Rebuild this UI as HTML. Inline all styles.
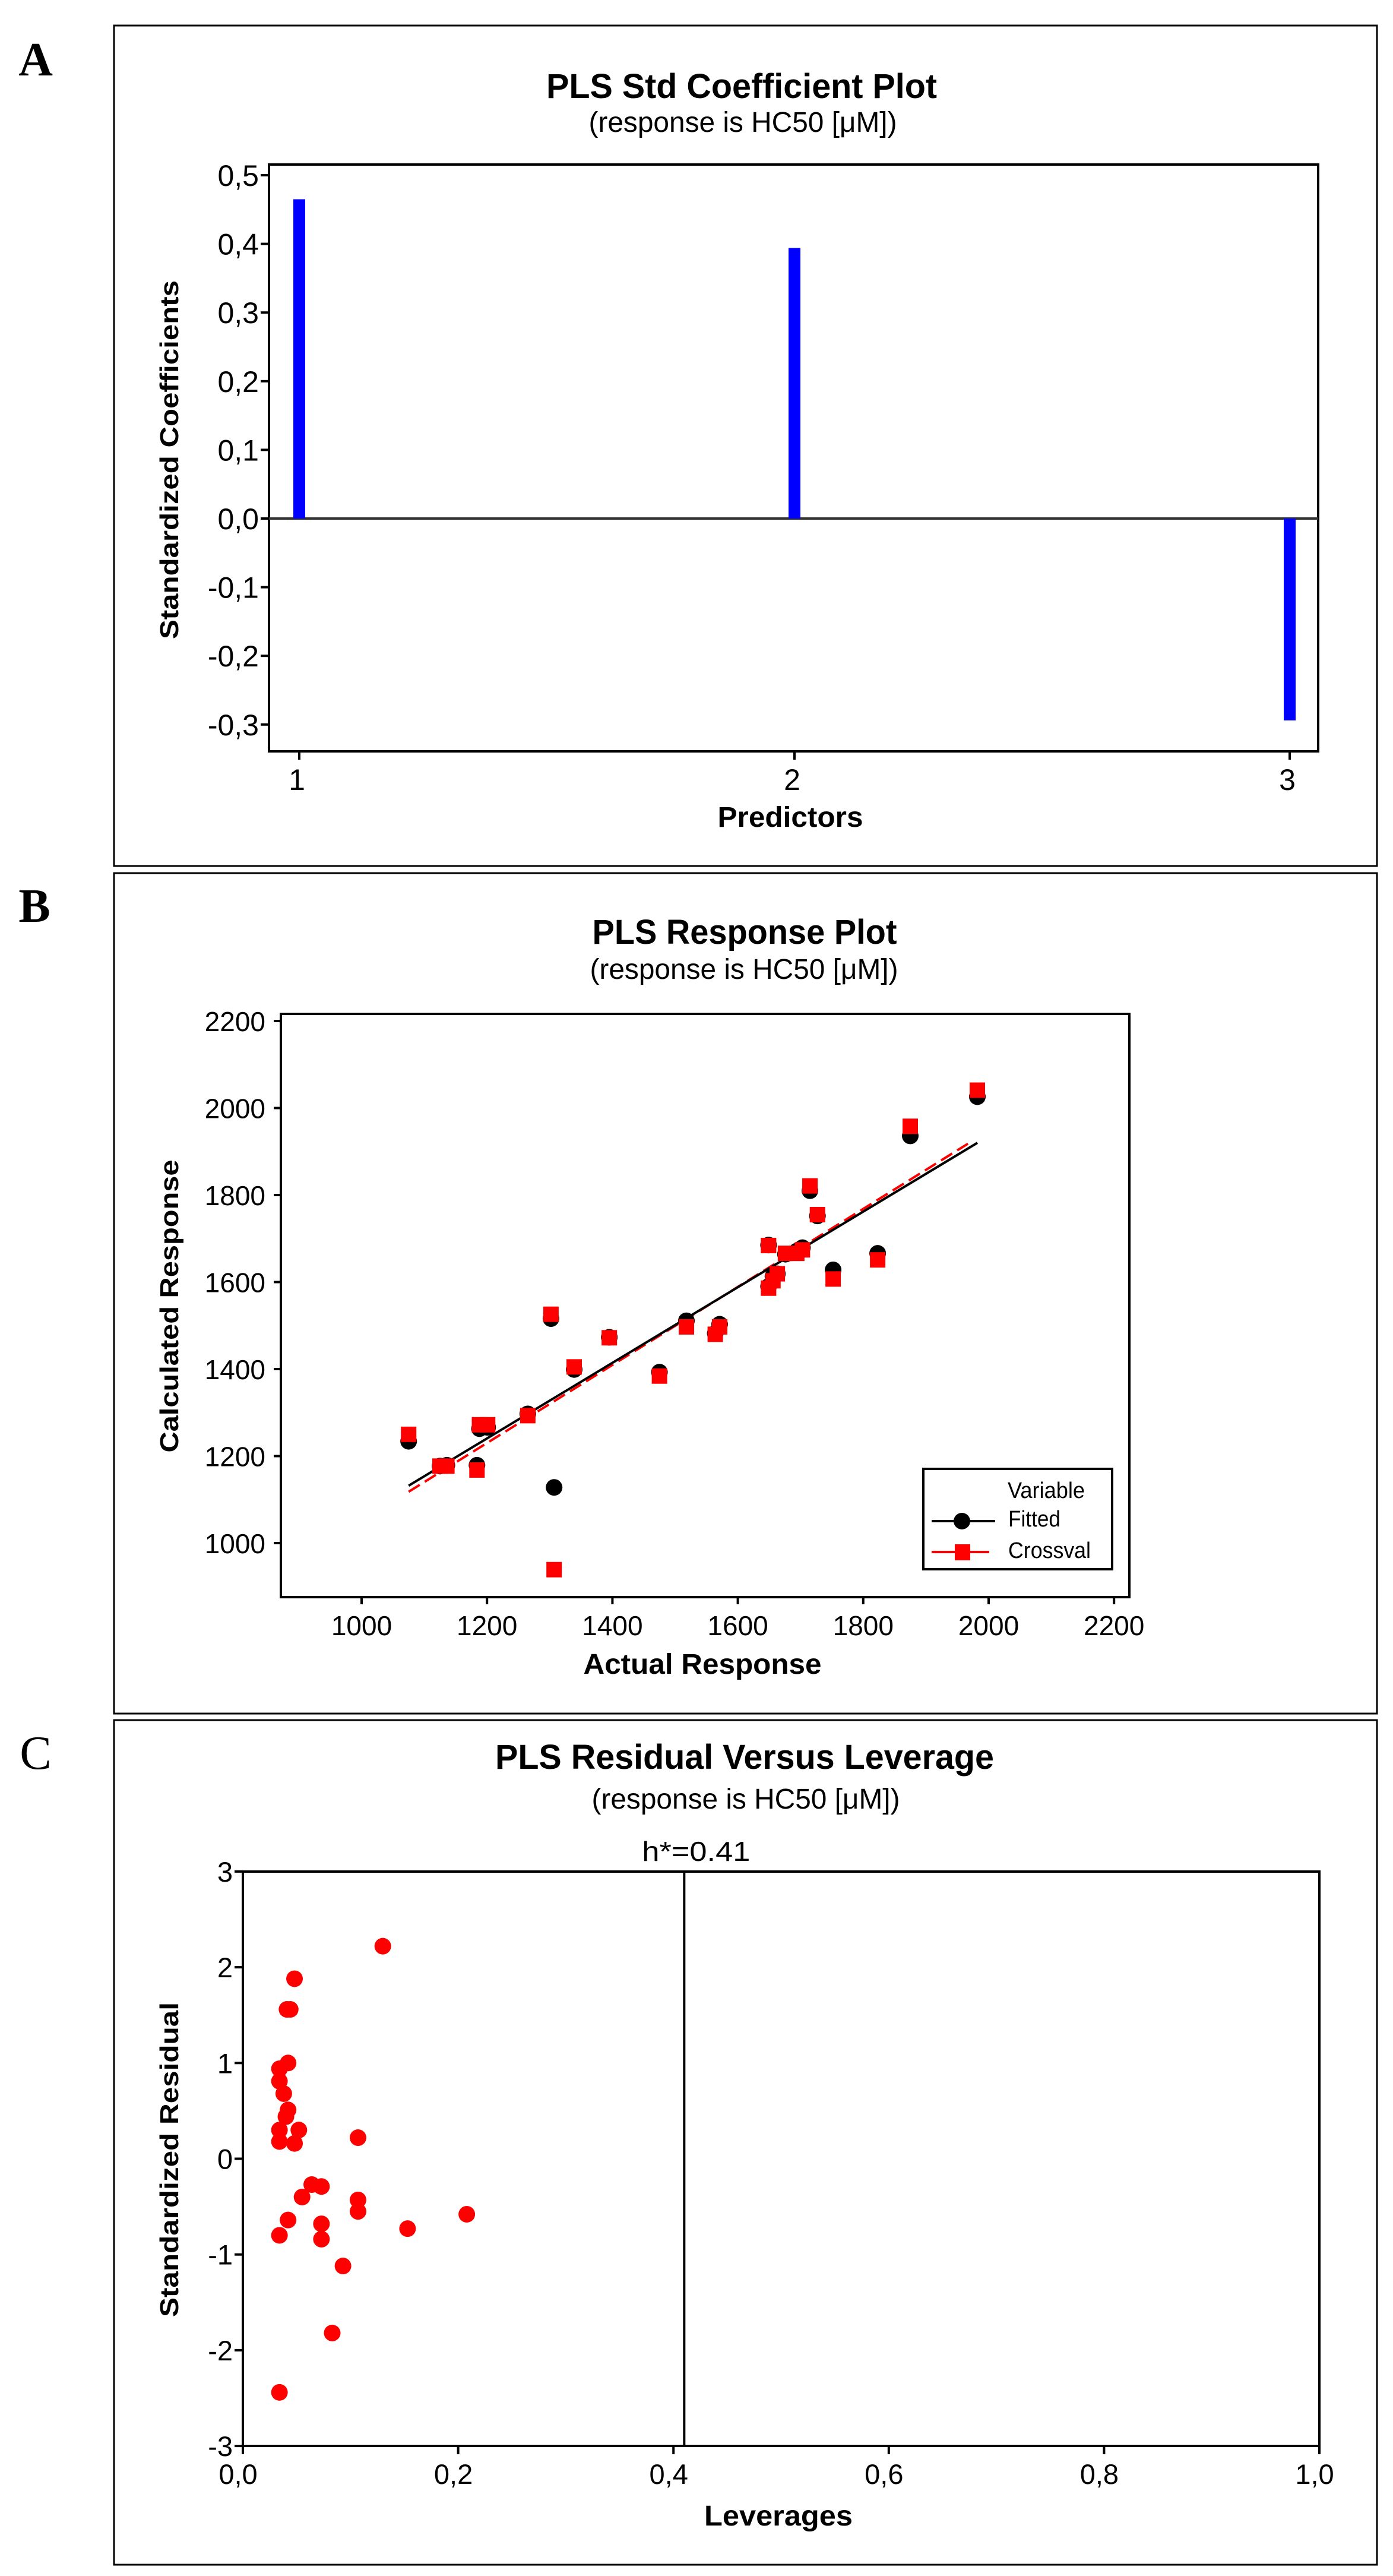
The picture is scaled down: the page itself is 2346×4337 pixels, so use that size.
<!DOCTYPE html>
<html><head><meta charset="utf-8"><style>
html,body{margin:0;padding:0;background:#fff;}
svg{display:block;font-family:"Liberation Sans",sans-serif;}
</style></head><body>
<svg id="fig" width="2346" height="4337" viewBox="0 0 2346 4337" xmlns="http://www.w3.org/2000/svg">
<rect x="0" y="0" width="2346" height="4337" fill="#fff"/>
</svg>
<script>
// Panel A data
const coefPredictors = [1, 2, 3];
const coefValues = [0.465, 0.394, -0.294];
const coefTicks = [0.5, 0.4, 0.3, 0.2, 0.1, 0.0, -0.1, -0.2, -0.3];
const coefTickLabels = ["0,5","0,4","0,3","0,2","0,1","0,0","-0,1","-0,2","-0,3"];
// Panel B data
const actualResp = [1075,1125,1136,1184,1188,1201,1265,1302,1307,1339,1395,1475,1518,1564,1571,1649,1649,1656,1663,1676,1694,1703,1715,1727,1752,1823,1875,1982];
const fittedResp = [1234,1177,1179,1179,1263,1266,1297,1516,1128,1399,1473,1393,1511,1482,1503,1685,1590,1613,1619,1664,1671,1679,1810,1752,1628,1666,1936,2026];
const crossvalResp = [1250,1177,1177,1168,1272,1272,1293,1526,939,1405,1472,1384,1497,1480,1497,1684,1586,1603,1619,1666,1666,1674,1821,1755,1607,1651,1958,2041];
const fitLineFitted = [[1075,1132],[1982,1920]];
const fitLineCross = [[1075,1118],[1967,1918]];
const respTicks = [1000,1200,1400,1600,1800,2000,2200];
// Panel C data
const leverages = [0.130,0.048,0.041,0.044,0.042,0.034,0.034,0.038,0.042,0.040,0.034,0.034,0.052,0.048,0.107,0.064,0.073,0.055,0.107,0.107,0.042,0.073,0.073,0.034,0.153,0.208,0.093,0.083,0.034];
const stdResiduals = [2.22,1.88,1.56,1.56,1.00,0.94,0.81,0.68,0.51,0.44,0.30,0.18,0.30,0.16,0.22,-0.27,-0.29,-0.40,-0.43,-0.55,-0.64,-0.68,-0.84,-0.80,-0.73,-0.58,-1.12,-1.82,-2.44];
const levTicks = [0,0.2,0.4,0.6,0.8,1.0];
const levTickLabels = ["0,0","0,2","0,4","0,6","0,8","1,0"];
const resTicks = [3,2,1,0,-1,-2,-3];
const hStar = 0.41;

const NS="http://www.w3.org/2000/svg";
const svg=document.getElementById('fig');
function el(tag,attrs,parent,text){const e=document.createElementNS(NS,tag);for(const k in attrs)e.setAttribute(k,attrs[k]);if(text!==undefined)e.textContent=text;(parent||svg).appendChild(e);return e;}
function txt(x,y,s,size,opts,parent){opts=opts||{};const a={x:x,y:y,'font-size':size,'text-anchor':opts.anchor||'middle',fill:'#000'};if(opts.bold)a['font-weight']='bold';if(opts.len){a.textLength=opts.len;a.lengthAdjust='spacingAndGlyphs';}if(opts.family)a['font-family']=opts.family;if(opts.transform)a.transform=opts.transform;return el('text',a,parent,s);}

// ---------- Panel A ----------
const gA=el('g',{});


let r=el('rect',{x:192,y:43,width:2127,height:1415,fill:'none',stroke:'#000','stroke-width':3},gA);

let t=txt(60,127,'A',80,{bold:true,family:'"Liberation Serif",serif'},gA);

t=txt(1249,165,'PLS Std Coefficient Plot',58,{bold:true,len:658},gA);

t=txt(1251,222,'(response is HC50 [μM])',48,{len:519},gA);

const A={l:453,r:2220,t:277,b:1265};
const ayA=v=>873-(v)*1156;
const axA=p=>504+(p-1)*834;
r=el('rect',{x:A.l,y:A.t,width:A.r-A.l,height:A.b-A.t,fill:'none',stroke:'#000','stroke-width':4},gA);

let ln=el('line',{x1:A.l,x2:A.r,y1:ayA(0),y2:ayA(0),stroke:'#333','stroke-width':4},gA);

coefTicks.forEach((v,i)=>{const y=ayA(v);
 const l=el('line',{x1:A.l-14,x2:A.l,y1:y,y2:y,stroke:'#000','stroke-width':4},gA);
 
 const tt=txt(436,y+18,coefTickLabels[i],50,{anchor:'end'},gA);
 });
coefPredictors.forEach(p=>{const x=axA(p);
 const l=el('line',{x1:x,x2:x,y1:A.b,y2:A.b+14,stroke:'#000','stroke-width':4},gA);
 
 const tt=txt(x-4,1330,String(p),50,{},gA);
 });
coefValues.forEach((v,i)=>{const x=axA(coefPredictors[i]);const y0=ayA(0),y1=ayA(v);
 const b=el('rect',{x:x-10,y:Math.min(y0,y1),width:20,height:Math.abs(y1-y0),fill:'#0000ff'},gA);
 });
t=txt(1331,1392,'Predictors',48,{bold:true,len:245},gA);

t=txt(0,0,'Standardized Coefficients',44,{bold:true,len:604,transform:'translate(300,774) rotate(-90)'},gA);


// ---------- Panel B ----------
const gB=el('g',{});


r=el('rect',{x:192,y:1470,width:2127,height:1415,fill:'none',stroke:'#000','stroke-width':3},gB);

t=txt(58,1552,'B',80,{bold:true,family:'"Liberation Serif",serif'},gB);

t=txt(1254,1589,'PLS Response Plot',58,{bold:true,len:513},gB);

t=txt(1253,1648,'(response is HC50 [μM])',48,{len:519},gB);

const B={l:473,r:1902,t:1707,b:2689};
const bx=v=>609+(v-1000)*1.056;
const by=v=>2598-(v-1000)*0.7325;
r=el('rect',{x:B.l,y:B.t,width:B.r-B.l,height:B.b-B.t,fill:'none',stroke:'#000','stroke-width':4},gB);

respTicks.forEach(v=>{const y=by(v),x=bx(v);
 let l=el('line',{x1:B.l-12,x2:B.l,y1:y,y2:y,stroke:'#000','stroke-width':4},gB);
 
 let tt=txt(447,y+17,String(v),46,{anchor:'end'},gB);
 
 l=el('line',{x1:x,x2:x,y1:B.b,y2:B.b+12,stroke:'#000','stroke-width':4},gB);
 
 tt=txt(x,2753,String(v),46,{},gB);
 });
ln=el('line',{x1:bx(fitLineCross[0][0]),y1:by(fitLineCross[0][1]),x2:bx(fitLineCross[1][0]),y2:by(fitLineCross[1][1]),stroke:'#ff0000','stroke-width':4,'stroke-dasharray':'22,10'},gB);

ln=el('line',{x1:bx(fitLineFitted[0][0]),y1:by(fitLineFitted[0][1]),x2:bx(fitLineFitted[1][0]),y2:by(fitLineFitted[1][1]),stroke:'#000','stroke-width':4},gB);

actualResp.forEach((a,i)=>{
 const c=el('circle',{cx:bx(a),cy:by(fittedResp[i]),r:14,fill:'#000'},gB);
 });
actualResp.forEach((a,i)=>{
 const s=el('rect',{x:bx(a)-13,y:by(crossvalResp[i])-13,width:26,height:26,fill:'#ff0000'},gB);
 });
const lg=el('g',{},gB);

r=el('rect',{x:1555,y:2473,width:318,height:169,fill:'#fff',stroke:'#000','stroke-width':4},lg);

t=txt(1697,2522,'Variable',38,{anchor:'start',len:130},lg);

ln=el('line',{x1:1569,x2:1676,y1:2561,y2:2561,stroke:'#000','stroke-width':4},lg);

let c=el('circle',{cx:1620,cy:2561,r:14,fill:'#000'},lg);

t=txt(1698,2570,'Fitted',38,{anchor:'start',len:88},lg);

ln=el('line',{x1:1569,x2:1666,y1:2613,y2:2613,stroke:'#ff0000','stroke-width':4},lg);

r=el('rect',{x:1608,y:2600,width:26,height:27,fill:'#ff0000'},lg);

t=txt(1698,2623,'Crossval',38,{anchor:'start',len:139},lg);

t=txt(1183,2818,'Actual Response',48,{bold:true,len:401},gB);

t=txt(0,0,'Calculated Response',44,{bold:true,len:493,transform:'translate(300,2199) rotate(-90)'},gB);


// ---------- Panel C ----------
const gC=el('g',{});


r=el('rect',{x:192,y:2896,width:2127,height:1422,fill:'none',stroke:'#000','stroke-width':3},gC);

t=txt(60,2978,'C',80,{family:'"Liberation Serif",serif'},gC);

t=txt(1254,2978,'PLS Residual Versus Leverage',58,{bold:true,len:840},gC);

t=txt(1256,3045,'(response is HC50 [μM])',48,{len:519},gC);

const C={l:409,r:2222,t:3151,b:4118};
const cx=v=>409+v*1813;
const cy=v=>3634.5-v*161.2;
r=el('rect',{x:C.l,y:C.t,width:C.r-C.l,height:C.b-C.t,fill:'none',stroke:'#000','stroke-width':4},gC);

ln=el('line',{x1:cx(hStar),x2:cx(hStar),y1:C.t,y2:C.b,stroke:'#000','stroke-width':4},gC);

t=txt(cx(hStar)+20,3133,'h*=0.41',46,{len:182},gC);

resTicks.forEach(v=>{const y=cy(v);
 const l=el('line',{x1:C.l-14,x2:C.l,y1:y,y2:y,stroke:'#000','stroke-width':4},gC);
 
 const tt=txt(392,y+17,String(v),47,{anchor:'end'},gC);
 });
levTicks.forEach((v,i)=>{const x=cx(v);
 const l=el('line',{x1:x,x2:x,y1:C.b,y2:C.b+14,stroke:'#000','stroke-width':4},gC);
 
 const tt=txt(x-8,4182,levTickLabels[i],47,{},gC);
 });
leverages.forEach((lv,i)=>{
 const p=el('circle',{cx:cx(lv),cy:cy(stdResiduals[i]),r:14,fill:'#ff0000'},gC);
 });
t=txt(1311,4252,'Leverages',48,{bold:true,len:250},gC);

t=txt(0,0,'Standardized Residual',44,{bold:true,len:530,transform:'translate(300,3636) rotate(-90)'},gC);

</script>
</body></html>
